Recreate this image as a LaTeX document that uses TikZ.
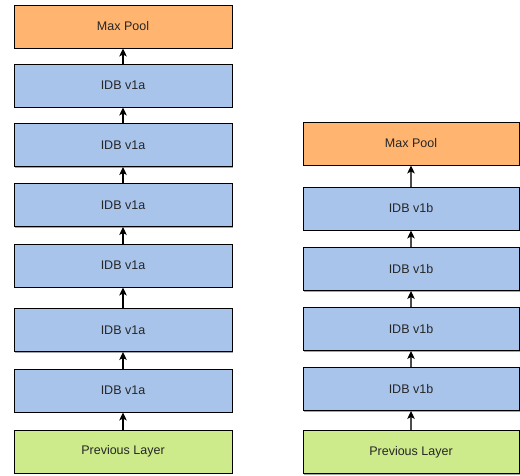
\documentclass[tikz,border=0pt]{standalone}
\usepackage{fontspec}
\setmainfont{Liberation Sans}
\usetikzlibrary{arrows.meta,shadows}
\definecolor{poolfill}{HTML}{FFB570}
\definecolor{idbfill}{HTML}{A9C4EB}
\definecolor{prevfill}{HTML}{CDEB8B}
\begin{document}
\begin{tikzpicture}[x=1pt,y=-1pt,
  layer/.style={draw=black, line width=0.9pt, minimum height=43pt,
    inner sep=0pt, font=\fontsize{12.5}{14}\selectfont, text=black!85,
    drop shadow={shadow xshift=0.8pt, shadow yshift=-1.2pt, opacity=0.35, fill=black}},
  lwide/.style={layer, minimum width=218pt},
  rwide/.style={layer, minimum width=216pt},
  pool/.style={fill=poolfill},
  idb/.style={fill=idbfill},
  prev/.style={fill=prevfill},
  flow/.style={line width=1.1pt, -{Stealth[length=8pt,width=7.5pt,inset=2pt,color=black,fill=black]}}]
\useasboundingbox (0,0) rectangle (520,475);
% left stack: six v1a blocks
\node[lwide,pool] (lmp) at (123,26.5) {Max Pool};
\node[lwide,idb] (la1) at (123,85.5) {IDB v1a};
\node[lwide,idb] (la2) at (123,145) {IDB v1a};
\node[lwide,idb] (la3) at (123,205) {IDB v1a};
\node[lwide,idb] (la4) at (123,265.5) {IDB v1a};
\node[lwide,idb] (la5) at (123,330) {IDB v1a};
\node[lwide,idb] (la6) at (123,390.5) {IDB v1a};
\node[lwide,prev] (lpl) at (123,451.5) {Previous Layer};
\foreach \a/\b in {lpl/la6,la6/la5,la5/la4,la4/la3,la3/la2,la2/la1,la1/lmp}
  \draw[flow,draw=black] (\a.north) -- (\b.south);
% right stack: four v1b blocks
\node[rwide,pool] (rmp) at (411,143.5) {Max Pool};
\node[rwide,idb] (rb1) at (411,208.5) {IDB v1b};
\node[rwide,idb] (rb2) at (411,269) {IDB v1b};
\node[rwide,idb] (rb3) at (411,329) {IDB v1b};
\node[rwide,idb] (rb4) at (411,389) {IDB v1b};
\node[rwide,prev] (rpl) at (411,452) {Previous Layer};
\foreach \a/\b in {rpl/rb4,rb4/rb3,rb3/rb2,rb2/rb1,rb1/rmp}
  \draw[flow,draw=black!70] (\a.north) -- (\b.south);
\end{tikzpicture}
\end{document}
